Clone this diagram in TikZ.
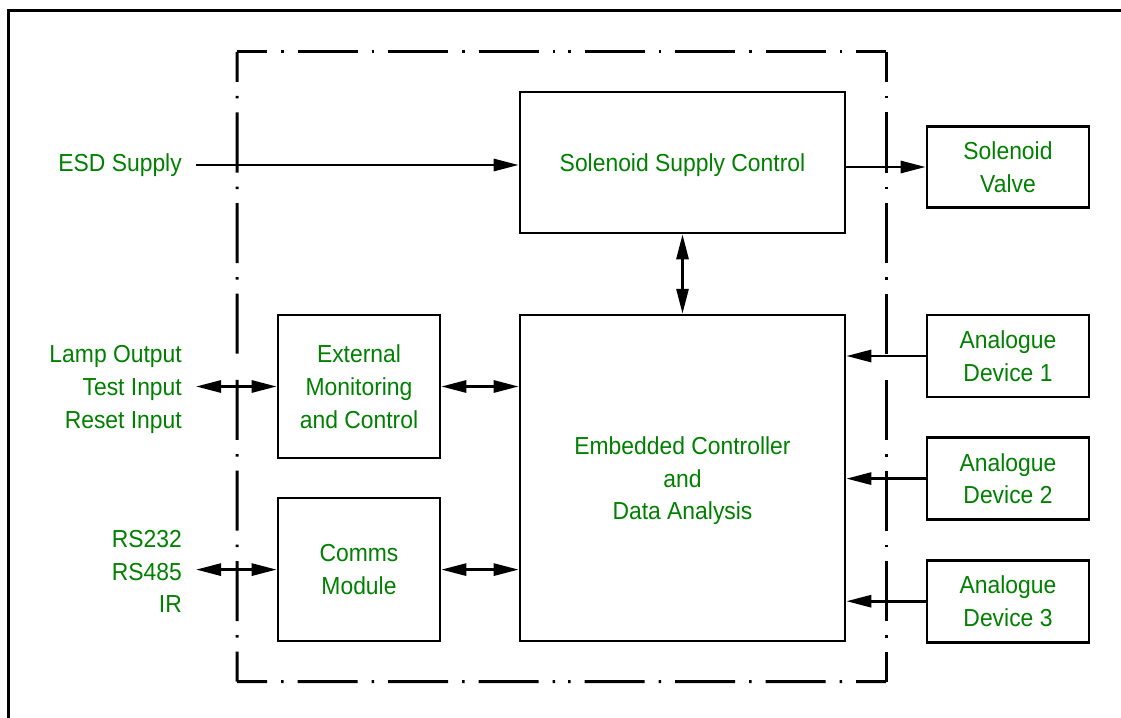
\documentclass[tikz,border=0pt]{standalone}
\usepackage{fontspec}
\setmainfont[FakeStretch=0.93]{Liberation Sans}
\usetikzlibrary{arrows.meta,positioning,calc}
\definecolor{labelgreen}{RGB}{0,128,0}

\begin{document}
\begin{tikzpicture}[x=1bp,y=-1bp,>={Triangle[length=25bp,width=12bp]},
  node distance=38bp,
  block/.style={draw,line width=2.6bp,text=labelgreen,align=center,inner sep=0pt,text depth=0pt},
  sig/.style={text=labelgreen,align=right,inner sep=0pt,inner xsep=14bp},
  link/.style={line width=2.8bp},
  frame/.style={line width=3bp,dash pattern=on 60bp off 14bp on 2.5bp off 14bp,dash phase=30bp},
  every node/.style={font=\fontsize{24.7}{33}\selectfont}]

\useasboundingbox (0,0) rectangle (1121,718);
\draw[line width=3bp] (1130,10.5) -- (8,10.5) -- (8,730);

% module outline
\coordinate (tl) at (237,52);
\coordinate (tr) at (886,52);
\coordinate (br) at (886,681.5);
\coordinate (bl) at (237,681.5);
\foreach \a/\b in {tl/tr,tr/br,br/bl,bl/tl}{
  \draw[frame] (\a) -- ($(\a)!0.5!(\b)$);
  \draw[frame] (\b) -- ($(\a)!0.5!(\b)$);
}

\node[block,minimum width=325bp,minimum height=141bp] (supply) at (682.5,162.5) {Solenoid Supply Control};
\node[block,minimum width=325bp,minimum height=326bp] (ctrl) [below=79.5bp of supply] {Embedded Controller\\and\\Data Analysis};
\node[block,minimum width=162bp,minimum height=143bp] (extmon) at (359,386.5) {External\\Monitoring\\and Control};
\node[block,minimum width=162bp,minimum height=143bp] (comms) [below=37.5bp of extmon] {Comms\\Module};
\node[block,minimum width=162bp,minimum height=81bp] (valve) at (1008,167) {Solenoid\\Valve};
\node[block,minimum width=162bp,minimum height=82bp] (dev1) at (1008,356) {Analogue\\Device 1};
\node[block,minimum width=162bp,minimum height=82bp] (dev2) [below=38bp of dev1] {Analogue\\Device 2};
\node[block,minimum width=162bp,minimum height=82bp] (dev3) [below=38bp of dev2] {Analogue\\Device 3};

\node[sig,anchor=east] (esd) at (196,165) {ESD Supply};
\node[sig,anchor=east] (lamp) at (196,389.5) {Lamp Output\\Test Input\\Reset Input};
\node[sig,anchor=east] (rs) at (196,571.5) {RS232\\RS485\\IR};

\draw[link,->] (esd.east) -- (esd.east -| supply.west);
\draw[link,->] (valve.west -| supply.east) -- (valve.west);
\draw[link,<->] (supply.south) -- (ctrl.north);
\draw[link,<->] (extmon.west -| lamp.east) -- (extmon.west);
\draw[link,<->] (extmon.east) -- (extmon.east -| ctrl.west);
\draw[link,<->] (comms.west -| rs.east) -- (comms.west);
\draw[link,<->] (comms.east) -- (comms.east -| ctrl.west);
\foreach \d in {dev1,dev2,dev3}
  \draw[link,->] (\d.west) -- (\d.west -| ctrl.east);

\end{tikzpicture}
\end{document}
